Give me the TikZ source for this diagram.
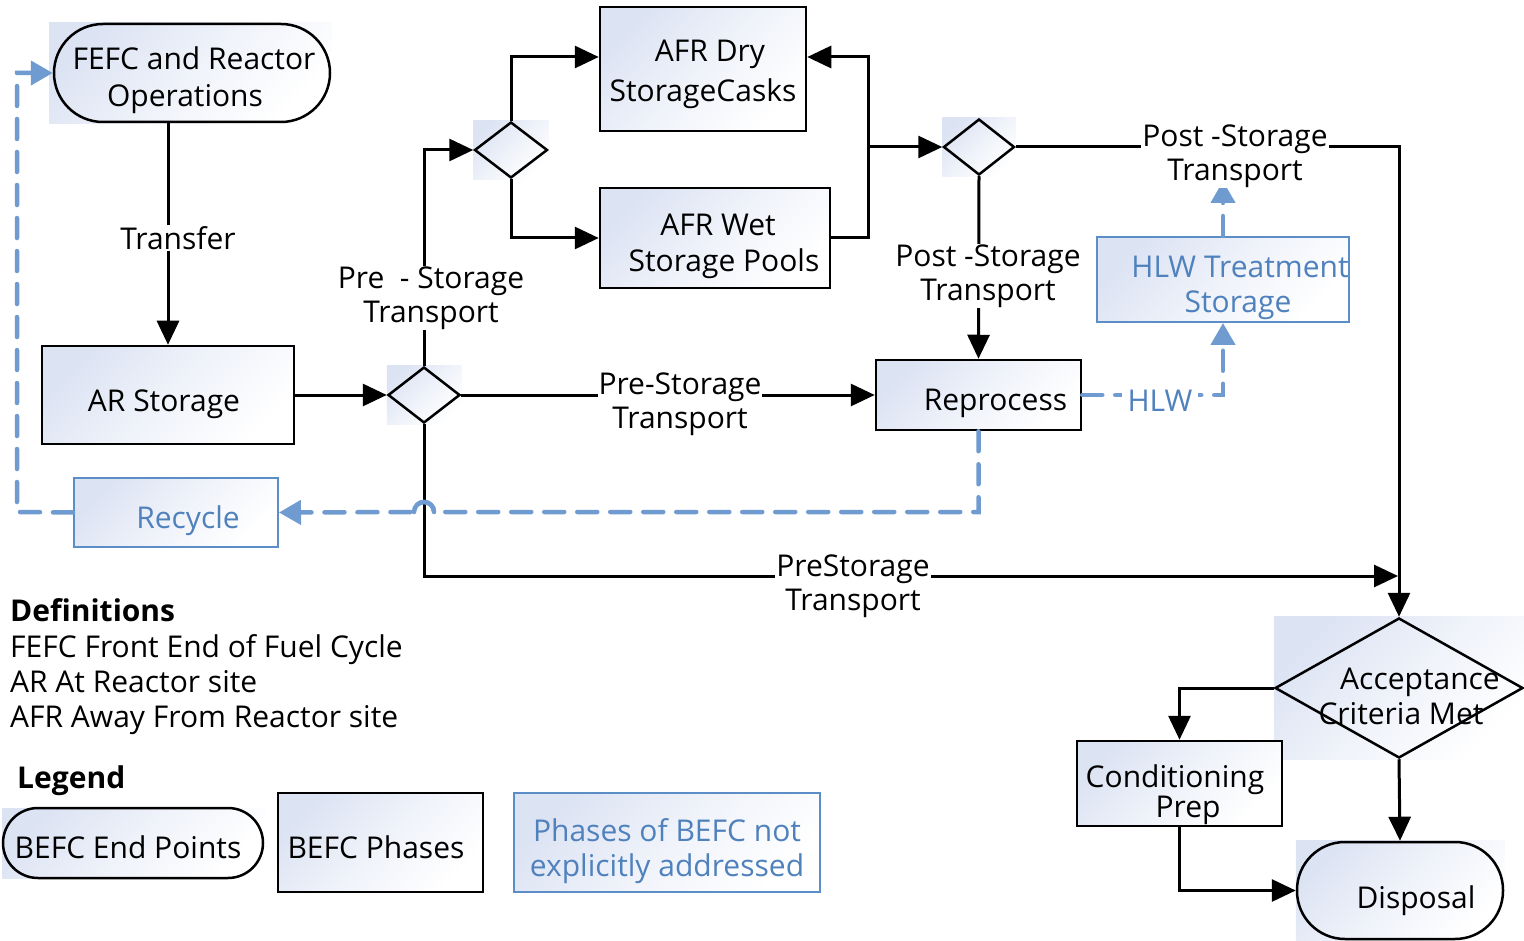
\documentclass[tikz,border=0pt]{standalone}
\usepackage{fontspec}
\setmainfont{Open Sans}
\usetikzlibrary{arrows.meta,shapes.geometric,backgrounds,calc}
\definecolor{grad}{HTML}{DCE3F3}
\definecolor{tblue}{HTML}{4F81BD}
\definecolor{lblue}{HTML}{6F9BD1}
\definecolor{bblue}{HTML}{5B8EC7}
\newcommand{\dtxt}[2]{\raisebox{-#1}[\height][\depth]{\begin{tabular}{@{}c@{}}#2\end{tabular}}}
\tikzset{
  txt/.style={font=\fontsize{30}{37}\selectfont, align=center},
  shd/.style={top color=grad, bottom color=white, middle color=white!55!grad, shading angle=45},
  proc/.style={txt, shd, draw, line width=2.5pt, rectangle, inner sep=0pt},
  hproc/.style={txt, shd, draw=bblue, line width=2pt, text=tblue, rectangle, inner sep=0pt},
  term/.style={txt, draw, line width=2.5pt, rectangle, inner sep=0pt},
  dec/.style={draw, line width=2.5pt, diamond, inner sep=0pt},
  conn/.style={line width=3pt, -{Triangle[length=24pt,width=22pt]}},
  bconn/.style={lblue, line width=4.5pt, dash pattern=on 20pt off 13pt, line cap=round, -{Triangle[length=22pt,width=24pt]}},
  hop/.style={lblue, line width=4.5pt, line cap=round},
  lab/.style={font=\fontsize{30}{34}\selectfont, align=center, fill=white, inner sep=1pt},
  deftxt/.style={font=\fontsize{30}{35}\selectfont, anchor=base west, inner sep=0pt},
}
\begin{document}
\begin{tikzpicture}[x=1pt,y=-1pt]
\useasboundingbox (0,0) rectangle (1524,941);
% shapes
\node[term, rounded corners=49pt, minimum width=276pt, minimum height=98pt] (fefc) at (192,73) {\dtxt{8pt}{\hspace*{4pt}FEFC and Reactor\\Operations\hspace*{14pt}}};
\node[proc, minimum width=252pt, minimum height=98pt] (ar) at (168,395) {\dtxt{9pt}{AR Storage\hspace*{8pt}}};
\node[dec, minimum width=72pt, minimum height=56pt] (d1) at (424,395) {};
\node[dec, minimum width=73pt, minimum height=56pt] (d2) at (511,150) {};
\node[proc, minimum width=206pt, minimum height=124pt] (dry) at (703,69) {\dtxt{5pt}{\hspace*{14pt}AFR Dry\\[3pt]StorageCasks}};
\node[proc, minimum width=230pt, minimum height=100pt] (wet) at (715,238) {\dtxt{8pt}{\hspace*{6pt}AFR Wet\\[-1pt]\hspace*{18pt}Storage Pools}};
\coordinate (j) at (868,147);
\node[dec, minimum width=71pt, minimum height=56pt] (d3) at (979,147) {};
\node[proc, minimum width=205pt, minimum height=70pt] (reproc) at (978.5,395) {\dtxt{8pt}{\hspace*{34pt}Reprocess}};
\node[hproc, minimum width=252pt, minimum height=85pt] (hlw) at (1223,279.5) {\dtxt{8pt}{\hspace*{34pt}HLW Treatment\\[-2pt]\hspace*{30pt}Storage}};
\coordinate (hlwend) at (1223,181);
\node[dec, minimum width=248pt, minimum height=140pt] (acc) at (1399,688) {};
\node[txt, font=\fontsize{30}{35}\selectfont] (acctxt) at (1401,696) {\hspace*{38pt}Acceptance\\Criteria Met};
\node[proc, minimum width=205pt, minimum height=85pt] (cond) at (1179.5,783.5) {\dtxt{12pt}{Conditioning\hspace*{9pt}\\[-7pt]\hspace*{17pt}Prep}};
\node[term, rounded corners=48pt, minimum width=206pt, minimum height=97pt] (disp) at (1400,890.5) {\dtxt{11pt}{\hspace*{32pt}Disposal}};
\node[hproc, minimum width=204pt, minimum height=69pt] (recyc) at (176,512.5) {\dtxt{9pt}{\hspace*{24pt}Recycle}};
\coordinate (lc) at (17,512);
\coordinate (pend) at (1398,576);
% background gradients of terminals and decisions
\begin{scope}[on background layer]
  \shade[shd] (49,23) rectangle (fefc.south east);
  \shade[shd] (d1.west |- d1.north) rectangle (d1.east |- d1.south);
  \shade[shd] (d2.west |- d2.north) rectangle (d2.east |- d2.south);
  \shade[shd] (d3.west |- d3.north) rectangle (d3.east |- d3.south);
  \shade[shd] (acc.west |- acc.north) rectangle (acc.east |- acc.south);
  \shade[shd] (disp.north west) rectangle (disp.south east);
\end{scope}
% connectors
\draw[conn] (fefc.south -| ar.north) -- (ar.north);
\draw[conn] (ar.east) -- (d1.west);
\draw[conn] (d1.north) |- (d2.west);
\draw[conn] (d2.north) |- ([yshift=12pt]dry.west);
\draw[conn] (d2.south) |- (wet.west);
\draw[conn] (wet.east) -| (j) |- ([yshift=12pt]dry.east);
\draw[conn] (j) -- (d3.west);
\draw[conn] (d3.east) -| (acc.north);
\draw[conn] (d3.south) -- (reproc.north);
\draw[conn] (d1.east) -- (reproc.west);
\draw[conn] (d1.south) |- (pend);
\draw[conn] (acc.west) -| (cond.north);
\draw[conn] (cond.south) |- (disp.west);
\draw[conn] (acc.south) -- (disp.north);
% blue dashed connectors
\draw[bconn] (reproc.south) -- (reproc.south |- 0,512) -- (434,512) arc[start angle=0, end angle=-180, radius=10] -- (recyc.east);
\draw[hop] (434,512) arc[start angle=0, end angle=-180, radius=10];
\draw[bconn] (recyc.west) -- (lc) |- (fefc.west);
\draw[bconn] (reproc.east) -| (hlw.south);
\draw[bconn] (hlw.north) -- (hlwend);
% labels
\node[lab] (l1) at (178,238) {Transfer};
\node[lab] (l2) at (431,298) {Pre\ \ - Storage\\Transport};
\node[lab] (l3) at (988,276) {Post -Storage\\Transport};
\node[lab] (l4) at (1235,156) {Post -Storage\\Transport};
\node[lab] (l5) at (680,404) {Pre-Storage\\Transport};
\node[lab] (l6) at (853,586) {PreStorage\\Transport};
\node[lab, text=tblue, inner xsep=6pt] (l7) at (1160,401) {HLW};
% definitions
\node[deftxt, font=\fontsize{30}{35}\selectfont\bfseries] (defh) at (10,621) {Definitions};
\node[deftxt] (def1) at (10,657) {FEFC Front End of Fuel Cycle};
\node[deftxt] (def2) at (10,692) {AR At Reactor site};
\node[deftxt] (def3) at (10,727) {AFR Away From Reactor site};
% legend
\node[deftxt, font=\fontsize{30}{35}\selectfont\bfseries] (legh) at (17,788) {Legend};
\shade[shd] (2,808) rectangle (265,878);
\node[term, rounded corners=35pt, minimum width=260pt, minimum height=70pt] (lterm) at (133,843) {\dtxt{8pt}{BEFC End Points\hspace*{10pt}}};
\node[proc, minimum width=205pt, minimum height=99pt] (lproc) at (380.5,842.5) {\dtxt{9pt}{BEFC Phases\hspace*{9pt}}};
\node[hproc, minimum width=306pt, minimum height=99pt] (lblue) at (667,842.5) {\dtxt{9pt}{Phases of BEFC not\\[-2pt]explicitly addressed}};
\end{tikzpicture}
\end{document}
